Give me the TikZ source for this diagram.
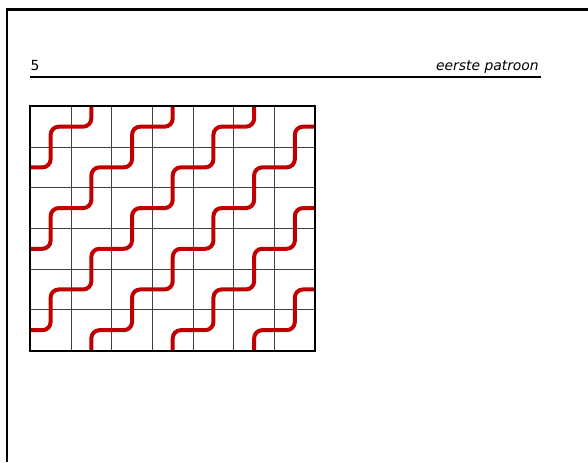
\documentclass[tikz,border=0pt]{standalone}
\usepackage{fontspec}
\newfontfamily\kopfont{DejaVu Sans}
\usepackage{xcolor}
\usepackage{tikz}
\definecolor{tegelrood}{RGB}{192,0,0}
\tikzset{
  kader/.style={
    line width=1.6pt,
    draw=black
  },
  kop/.style={
    inner sep=0pt,
    font=\kopfont\fontsize{9.7pt}{11pt}\selectfont
  },
  streep/.style={
    line width=1.4pt
  },
  rooster/.style={
    draw=black!75,
    line width=0.65pt
  },
  rand/.style={
    draw=black,
    line width=1.4pt
  },
  tegel/.style={
    draw=tegelrood,
    line width=2.8pt,
    rounded corners=0.2cm
  }
}
\begin{document}
\begin{tikzpicture}
        \useasboundingbox (-0.744,-2.740) rectangle (13.703,8.612);
        \draw[kader] (-0.572,-2.740) -- (-0.572,8.378) -- (13.703,8.378);
        %
        \node[kop, anchor=base west] (nummer) at (0,6.88) {5};
        \node[kop, anchor=base east] (titel) at (12.50,6.88) {\itshape eerste patroon};
        \coordinate (lijnbegin) at (0,6.72);
        \coordinate (lijneind) at (12.56,6.72);
        \draw[streep] (lijnbegin)--(lijneind);
        %
        \draw[rooster] (0,0) grid (7,6);
        \begin{scope}
          \clip (0,0) rectangle (7,6);
          \foreach \k in {1,...,6}
            \draw[tegel] ({2*\k-6.5},-0.5) foreach \i in {1,...,8} {-- ++(0,1) -- ++(1,0)};
        \end{scope}
        \draw[rand] (0,0) rectangle (7,6);
    \end{tikzpicture}
\end{document}
